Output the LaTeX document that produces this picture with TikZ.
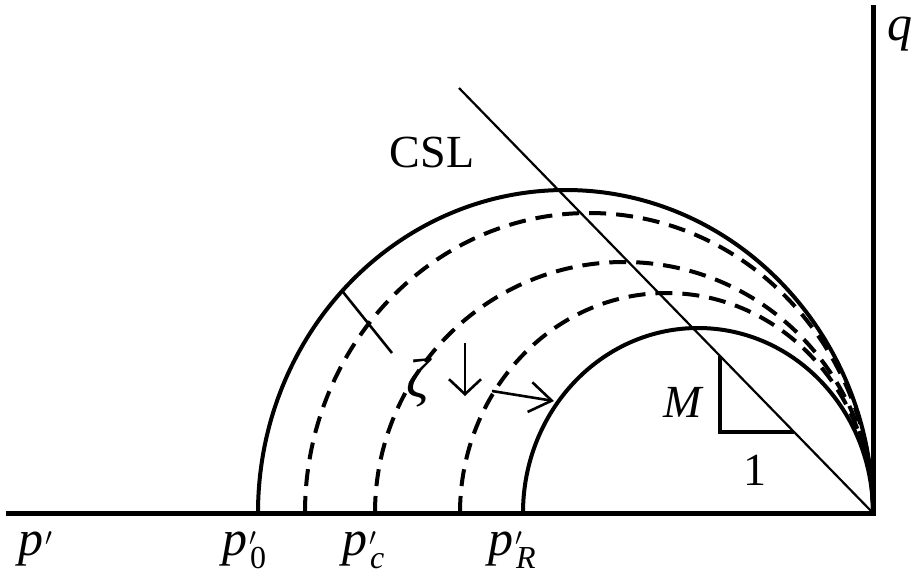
\documentclass[tikz,border=0pt]{standalone}
\usepackage{amsmath}
\usepackage{fontspec}
\setmainfont{Liberation Serif}
\usetikzlibrary{arrows.meta}
\tikzset{
  axisline/.style={line width=5pt},
  solidcurve/.style={line width=4pt},
  dashcurve/.style={line width=4pt, dash pattern=on 17pt off 10pt},
  cslline/.style={line width=2.2pt},
  triline/.style={line width=3.2pt},
  arr/.style={line width=2.6pt},
  lbl/.style={font=\fontsize{46}{52}\selectfont, inner sep=0pt},
  plbl/.style={font=\fontsize{50}{56}\selectfont, inner sep=0pt, anchor=base west}
}
\newcommand{\pprime}{\textit{p}\kern2pt$^{\prime}$}
\newcommand{\ppsub}[1]{\textit{p}\kern2pt\rlap{$^{\prime}$}\kern1pt\raisebox{-13pt}{\fontsize{32}{36}\selectfont #1}}
\begin{document}
\begin{tikzpicture}[x=1pt,y=-1pt]
\useasboundingbox (0,0) rectangle (913,579);
% axes
\coordinate (O) at (873,513);
\coordinate (Pend) at (6,513);
\coordinate (Qend) at (873,5);
\draw[axisline] (Pend) -- (O) -- (Qend);
% yield curves
\coordinate (E0) at (258,513);
\coordinate (E1) at (305,513);
\coordinate (E2) at (375,513);
\coordinate (E3) at (460,513);
\coordinate (E4) at (523,513);
\draw[solidcurve] (E0) arc[start angle=180, end angle=360, x radius=307.5, y radius=323];
\draw[dashcurve] (E1) arc[start angle=180, end angle=360, x radius=284, y radius=300];
\draw[dashcurve] (E2) arc[start angle=180, end angle=360, x radius=249, y radius=251];
\draw[dashcurve] (E3) arc[start angle=180, end angle=360, x radius=206.5, y radius=220];
\draw[solidcurve] (E4) arc[start angle=180, end angle=360, x radius=175, y radius=185];
% CSL
\coordinate (C1) at (459,88);
\draw[cslline] (C1) -- (O);
% slope triangle
\coordinate (T1) at (720,356);
\coordinate (T2) at (720,432);
\coordinate (T3) at (794,432);
\draw[triline] (T1) -- (T2) -- (T3);
% tick mark
\coordinate (K1) at (343,292);
\coordinate (K2) at (392,353);
\draw[arr] (K1) -- (K2);
% arrows
\coordinate (A1) at (465,343);
\coordinate (A2) at (465,396);
\draw[arr, -{Straight Barb[length=15pt,width=32pt]}] (A1) -- (A2);
\coordinate (B1) at (492,391);
\coordinate (B2) at (554,401);
\draw[arr, -{Straight Barb[length=22pt,width=30pt]}] (B1) -- (B2);
% labels
\node[lbl, anchor=base] (csl) at (432,167) {CSL};
\node[plbl] (q) at (887,40) {\textit{q}};
\node[font=\fontsize{56}{60}\selectfont, inner sep=0pt] (zeta) at (419,383) {\textit{ζ}};
\node[lbl, anchor=base] (M) at (684,417) {\textit{M}};
\node[lbl, anchor=base] (one) at (755,485) {1};
\node[plbl] (p) at (18,555) {\pprime};
\node[plbl] (p0) at (222,555) {\ppsub{0}};
\node[plbl] (pc) at (342,555) {\ppsub{\textit{c}}};
\node[plbl] (pR) at (488,555) {\ppsub{\textit{R}}};
\end{tikzpicture}
\end{document}
